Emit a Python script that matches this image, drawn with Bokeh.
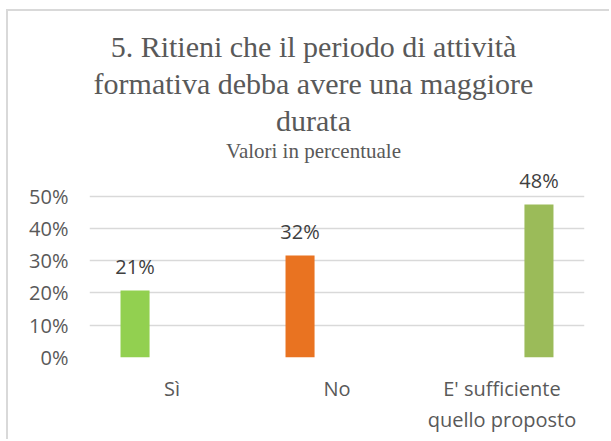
from bokeh.plotting import figure
from bokeh.models import (ColumnDataSource, FixedTicker, NumeralTickFormatter,
                          FactorRange, Range1d, Label)
from bokeh.transform import dodge
from bokeh.core.properties import value
from bokeh.embed import file_html
from bokeh.resources import INLINE

# ---- data ----
title_lines = ["5. Ritieni che il periodo di attività",
               "formativa debba avere una maggiore",
               "durata"]
subtitle = "Valori in percentuale"
categories = ["Sì", "No", "E' sufficiente\nquello proposto"]
values = [0.208, 0.316, 0.474]
value_labels = ["21%", "32%", "48%"]
y_ticks = [0.0, 0.1, 0.2, 0.3, 0.4, 0.5]

# ---- styling ----
colors = ["#92D050", "#E97321", "#9BBB59"]
offsets = [-0.224, -0.224, 0.224]
SANS = "Open Sans"
SERIF = "Liberation Serif"
GREY = "#595959"

W, H = 603, 430
frame_bottom = 346
p = figure(width=W, height=H,
           x_range=FactorRange(*categories, range_padding=0),
           y_range=Range1d(0, 1.0725),
           output_backend="svg", toolbar_location=None,
           min_border_left=81, min_border_right=27,
           min_border_bottom=H - frame_bottom, min_border_top=0)
p.styles = {"border-left": "2px solid #d9d9d9", "border-top": "2px solid #d9d9d9",
            "margin-left": "6px", "margin-top": "9px"}
p.outline_line_color = None
p.xgrid.grid_line_color = None
p.ygrid.grid_line_color = "#d9d9d9"
p.ygrid.grid_line_width = 1.5

p.yaxis.ticker = FixedTicker(ticks=y_ticks)
p.yaxis.formatter = NumeralTickFormatter(format="0%")
for ax in (p.xaxis[0], p.yaxis[0]):
    ax.axis_line_color = None
    ax.major_tick_line_color = None
    ax.minor_tick_line_color = None
    ax.major_tick_out = 0
    ax.major_label_text_font = SANS
    ax.major_label_text_font_size = "20px"
    ax.major_label_text_color = GREY
p.yaxis.major_label_standoff = 21
p.xaxis.major_label_standoff = 17
p.xaxis.major_label_text_line_height = 1.15

for i, cat in enumerate(categories):
    src = ColumnDataSource(dict(cat=[cat], val=[values[i]], lab=[value_labels[i]]))
    xd = dodge("cat", offsets[i], range=p.x_range)
    p.vbar(x=xd, top="val", width=0.176, source=src,
           fill_color=colors[i], line_color=None)
    p.text(x=xd, y="val", text="lab", source=src, y_offset=-24,
           text_align="center", text_baseline="middle",
           text_font=value(SANS), text_font_size="20px", text_color="#404040")

# title block (screen units relative to the frame)
title_y = [311, 274, 237]
for line, ty in zip(title_lines, title_y):
    p.add_layout(Label(x=224, y=ty, x_units="screen", y_units="screen", text=line,
                       text_align="center", text_baseline="alphabetic",
                       text_font=SERIF, text_font_size="30px", text_color=GREY))
p.add_layout(Label(x=224, y=207, x_units="screen", y_units="screen", text=subtitle,
                   text_align="center", text_baseline="alphabetic",
                   text_font=SERIF, text_font_size="21px", text_color=GREY))

open("out.html", "w").write(file_html(p, INLINE))
